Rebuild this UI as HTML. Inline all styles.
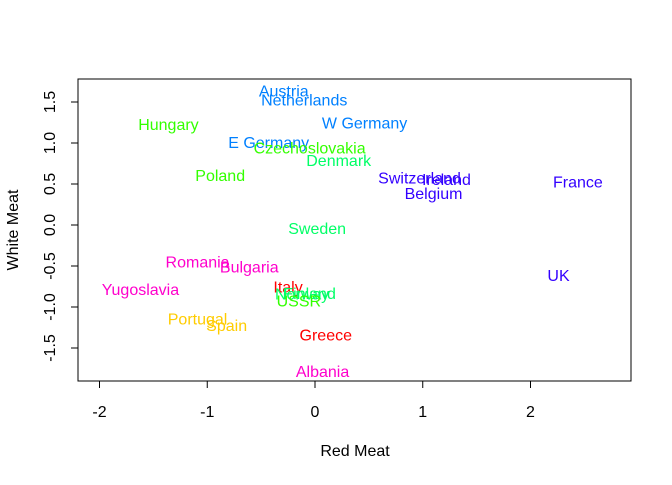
<!DOCTYPE html>
<html><head><meta charset="utf-8"><style>
body{margin:0;background:#fff}
svg text{font-family:"Liberation Sans",Arial,sans-serif;font-size:16px}
</style></head><body>
<svg id="c" width="672" height="480">
<rect x="78" y="79" width="553" height="302" fill="none" stroke="#000"/>
<g id="ax"></g><g id="pts"></g>
<text x="355" y="456" text-anchor="middle">Red Meat</text>
<text transform="translate(18,230) rotate(-90)" text-anchor="middle">White Meat</text>
</svg>
<script>
const countries=["Austria","Netherlands","W Germany","Hungary","E Germany","Czechoslovakia","Denmark","Poland","Switzerland","Ireland","Belgium","France","Sweden","UK","Romania","Bulgaria","Yugoslavia","Italy","Norway","Finland","USSR","Portugal","Spain","Greece","Albania"];
const redMeat=[-0.29,-0.10,0.46,-1.36,-0.43,-0.05,0.22,-0.88,0.97,1.22,1.10,2.44,0.02,2.26,-1.09,-0.61,-1.62,-0.25,-0.12,-0.05,-0.15,-1.09,-0.82,0.10,0.07];
const whiteMeat=[1.63,1.52,1.24,1.22,1.0,0.93,0.78,0.60,0.57,0.55,0.38,0.52,-0.05,-0.62,-0.46,-0.52,-0.79,-0.76,-0.85,-0.84,-0.93,-1.15,-1.23,-1.35,-1.79];
const cluster=[0,0,0,1,0,1,2,1,3,3,3,3,2,3,4,4,4,5,2,2,1,6,6,5,4];
const clusterColors=["#0080FF","#33FF00","#00FF66","#3300FF","#FF00CC","#FF0000","#FFCC00"];
const xTicks=[-2,-1,0,1,2];
const yTicks=[-1.5,-1,-0.5,0,0.5,1,1.5];
const NS="http://www.w3.org/2000/svg";
const sx=v=>315+v*107.75, sy=v=>225-v*82;
const ax=document.getElementById('ax'),pts=document.getElementById('pts');
function mk(tag,a,p){const e=document.createElementNS(NS,tag);for(const k in a)e.setAttribute(k,a[k]);p.appendChild(e);return e;}
const xl=mk('line',{x1:sx(-2),x2:sx(2),y1:381,y2:381,stroke:'#000'},ax);


xTicks.forEach(t=>{
  const l=mk('line',{x1:sx(t),x2:sx(t),y1:381,y2:388,stroke:'#000'},ax);
  
  
  const tx=mk('text',{x:sx(t),y:417,'text-anchor':'middle'},ax);tx.textContent=t;
  
  
});
const yl=mk('line',{x1:78,x2:78,y1:sy(-1.5),y2:sy(1.5),stroke:'#000'},ax);


yTicks.forEach(t=>{
  const l=mk('line',{x1:71,x2:78,y1:sy(t),y2:sy(t),stroke:'#000'},ax);
  
  
  const tx=mk('text',{transform:`translate(55,${sy(t)}) rotate(-90)`,'text-anchor':'middle'},ax);tx.textContent=t.toFixed(1);
  
  
});
countries.forEach((c,i)=>{
  const t=mk('text',{x:sx(redMeat[i]),y:sy(whiteMeat[i])+5,'text-anchor':'middle',fill:clusterColors[cluster[i]]},pts);
  t.textContent=c;
  
  
});
</script>
</body></html>
